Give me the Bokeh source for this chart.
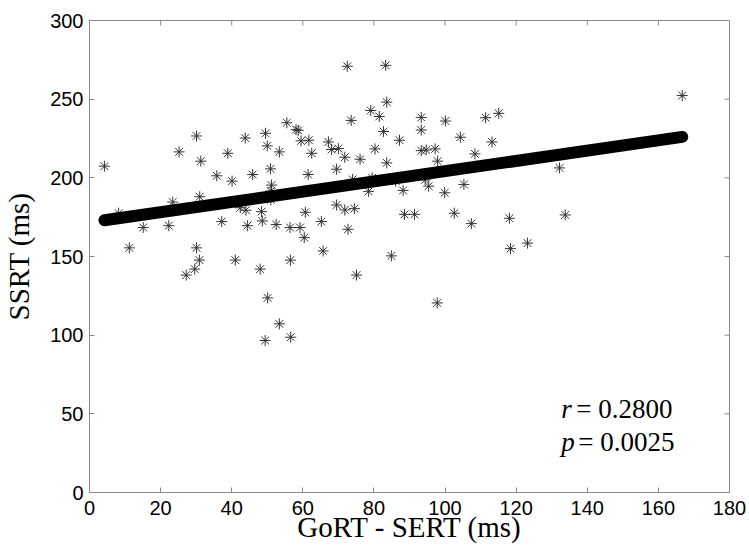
from bokeh.plotting import figure
from bokeh.models import Range1d, FixedTicker, Label
from bokeh.embed import file_html
from bokeh.resources import INLINE

# ---- data ----
gort_sert = [4.2, 8.2, 11.2, 15.1, 22.3, 23.4, 25.2, 30.1, 31.3, 31.0, 30.1, 35.8, 37.2, 38.9,
             40.1, 43.8, 45.9, 42.4, 44.0, 44.4, 48.4, 48.6, 49.5, 50.0, 50.9, 51.2, 51.0, 51.0,
             53.4, 52.5, 55.5, 56.4, 59.2, 58.1, 58.7, 59.5, 61.7, 62.5, 61.5, 67.2, 68.1, 70.0,
             71.8, 69.5, 72.5, 83.3, 76.1, 79.1, 81.5, 73.6, 83.6, 82.7, 80.3, 83.6, 87.2, 93.3,
             93.3, 93.3, 94.7, 97.2, 97.9, 100.1, 104.3, 111.4, 115.1, 113.2, 108.4, 78.5, 88.2,
             95.4, 99.9, 105.3, 88.6, 91.4, 102.6, 107.4, 60.7, 65.2, 69.5, 71.8, 74.5, 60.4,
             72.7, 65.7, 84.9, 132.2, 166.7, 118.1, 133.8, 123.2, 118.4, 30.9, 29.6, 27.2, 41.0,
             48.0, 50.1, 53.4, 49.4, 56.6, 56.5, 75.1, 97.8, 74.0, 79.5, 86.1, 94.4]
ssrt = [207.4, 177.5, 155.5, 168.4, 169.6, 184.6, 216.5, 226.6, 210.6, 188.0, 155.5, 201.3, 172.2,
        215.6, 197.9, 225.3, 202.1, 181.0, 179.4, 169.6, 178.5, 172.6, 228.3, 220.3, 205.7, 195.4,
        191.6, 186.0, 216.5, 170.3, 235.0, 168.4, 168.4, 230.6, 230.2, 223.5, 223.9, 215.6, 202.1,
        222.8, 218.0, 218.6, 213.1, 205.5, 270.9, 271.5, 211.8, 242.8, 239.0, 236.5, 248.1, 229.4,
        218.4, 209.5, 223.9, 238.4, 230.4, 217.3, 217.7, 218.4, 210.6, 236.1, 225.8, 238.2, 241.0,
        222.8, 215.2, 191.4, 192.0, 194.7, 190.5, 195.8, 176.8, 176.8, 177.5, 170.9, 178.1, 172.2,
        182.7, 179.6, 180.4, 162.0, 167.3, 153.5, 150.4, 206.3, 252.3, 174.3, 176.4, 158.5, 155.0,
        147.7, 142.0, 138.2, 147.7, 142.0, 123.7, 107.2, 96.6, 98.7, 147.7, 138.2, 120.5, 199.0,
        200.0, 197.9, 198.7]

fit_x = [4.2, 166.7]
fit_y = [173.0, 226.0]

x_ticks = [0, 20, 40, 60, 80, 100, 120, 140, 160, 180]
y_ticks = [0, 50, 100, 150, 200, 250, 300]

x_title = "GoRT - SERT (ms)"
y_title = "SSRT (ms)"
r_name, r_text = "r", "= 0.2800"
p_name, p_text = "p", "= 0.0025"

AX = "#8a8a8a"
SANS = "Liberation Sans"
SERIF = "Liberation Serif"

W, H = 749, 550
BL, BR, BT, BB = 88, 20, 20, 58
X0, X1, Y0, Y1 = 0, 180, 0, 300
TICK = 5  # px, inward

p = figure(width=W, height=H, output_backend="svg", toolbar_location=None,
           x_range=Range1d(X0, X1), y_range=Range1d(Y0, Y1),
           min_border_left=BL, min_border_right=BR, min_border_top=BT, min_border_bottom=BB,
           background_fill_color="white", border_fill_color="white")
p.xgrid.visible = False
p.ygrid.visible = False
p.outline_line_color = AX
p.outline_line_width = 1


def style_axis(ax, ticks):
    ax.ticker = FixedTicker(ticks=ticks)
    ax.axis_line_color = AX
    ax.major_tick_line_color = AX
    ax.major_tick_in = TICK
    ax.major_tick_out = 0
    ax.minor_tick_line_color = None
    ax.major_label_text_font = SANS
    ax.major_label_text_font_size = "20px"
    ax.major_label_text_color = "black"
    ax.axis_label_text_font = SERIF
    ax.axis_label_text_font_size = "29px"
    ax.axis_label_text_font_style = "normal"
    ax.axis_label_text_color = "black"


xa = p.xaxis[0]
ya = p.yaxis[0]
style_axis(xa, x_ticks)
style_axis(ya, y_ticks)
xa.major_label_standoff = 8
xa.axis_label = x_title
xa.axis_label_standoff = -7
ya.major_label_standoff = 6
ya.axis_label = y_title
ya.axis_label_standoff = 12

# inward ticks on the top and right edges of the box
px_x = (X1 - X0) / (W - BL - BR)
px_y = (Y1 - Y0) / (H - BT - BB)
p.segment(x0=x_ticks, y0=[Y1] * len(x_ticks), x1=x_ticks, y1=[Y1 - TICK * px_y] * len(x_ticks),
          line_color=AX, line_width=1)
p.segment(x0=[X1] * len(y_ticks), y0=y_ticks, x1=[X1 - TICK * px_x] * len(y_ticks), y1=y_ticks,
          line_color=AX, line_width=1)

p.scatter(gort_sert, ssrt, marker="asterisk", size=11, line_color="#333333", line_width=1)
p.line(fit_x, fit_y, line_width=12, line_cap="round", line_color="black")

# statistics annotation
for name, txt, yv, off in [(r_name, r_text, 52.8, 15), (p_name, p_text, 31.8, 17)]:
    p.add_layout(Label(x=132.7, y=yv, text=name, text_font=SERIF, text_font_size="27px",
                       text_font_style="italic", text_baseline="alphabetic", text_color="black"))
    p.add_layout(Label(x=132.7, y=yv, x_offset=off, text=txt, text_font=SERIF,
                       text_font_size="27px", text_baseline="alphabetic", text_color="black"))

open("out.html", "w").write(file_html(p, INLINE))
